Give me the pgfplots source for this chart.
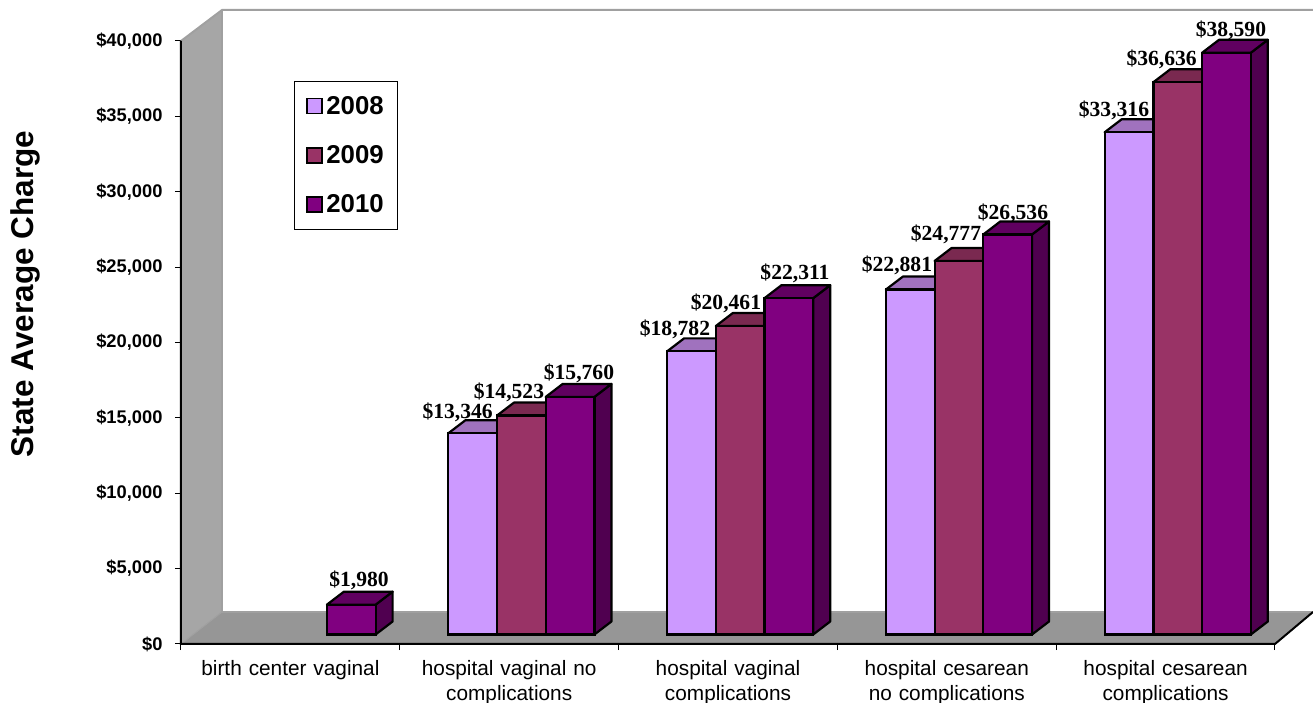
\documentclass[border=0pt]{standalone}
\usepackage{pgfplots}
\usepackage{pgfplotstable}
\usepackage{fontspec}
\pgfplotsset{compat=1.18}
\setmainfont{Liberation Sans}
\newfontfamily\serifbold{Liberation Serif}
\definecolor{cA}{HTML}{CC99FF}
\definecolor{cB}{HTML}{993366}
\definecolor{cC}{HTML}{800080}
\definecolor{tA}{HTML}{A072BE}
\definecolor{tB}{HTML}{7A2950}
\definecolor{tC}{HTML}{600060}
\definecolor{sA}{HTML}{8A5CAA}
\definecolor{sB}{HTML}{5F1F40}
\definecolor{sC}{HTML}{500050}
\definecolor{wallc}{HTML}{A6A6A6}
\definecolor{floorc}{HTML}{969696}
\definecolor{edgec}{HTML}{A0A0A0}
\pgfplotstableread{
x v
1.3330 13346
2.3330 18782
3.3330 22881
4.3330 33316
}\seriesA
\pgfplotstableread{
x v
1.5556 14523
2.5556 20461
3.5556 24777
4.5556 36636
}\seriesB
\pgfplotstableread{
x v
0.7782 1980
1.7782 15760
2.7782 22311
3.7782 26536
4.7782 38590
}\seriesC
% depth faces of a bar: centre x, value, top colour, side colour
\newcommand{\depthfaces}[4]{%
  \pgfmathsetmacro{\xl}{#1-0.1113}%
  \pgfmathsetmacro{\xr}{#1+0.1113}%
  \pgfmathsetmacro{\xlb}{\xl+0.0777}%
  \pgfmathsetmacro{\xrb}{\xr+0.0777}%
  \edef\yt{\the\numexpr#2+630\relax}%
  \edef\ytb{\the\numexpr#2+1492\relax}%
  \edef\tmp{\noexpand\addplot[forget plot,fill=#4,draw=black,line width=2.2pt,line join=round] coordinates {(\xr,630) (\xrb,1492) (\xrb,\ytb) (\xr,\yt)} -- cycle;
  \noexpand\addplot[forget plot,fill=#3,draw=black,line width=2.2pt,line join=round] coordinates {(\xl,\yt) (\xr,\yt) (\xrb,\ytb) (\xlb,\ytb)} -- cycle;}%
  \tmp}
% value label at a position read in reference pixels
\newcommand{\vlabel}[3]{%
  \pgfmathsetmacro{\lx}{(#1-181)/218.8}%
  \edef\ly{\the\numexpr(644-#2)*66335/1000\relax}%
  \edef\tmp{\noexpand\node[font=\noexpand\serifbold\noexpand\fontsize{21.6}{23}\noexpand\selectfont\noexpand\bfseries,anchor=center,inner sep=0pt] at (axis cs:\lx,\ly) {\noexpand\$#3};}%
  \tmp}
\begin{document}
\begin{tikzpicture}
\useasboundingbox (-181pt,-59pt) rectangle (1132pt,644pt);
\begin{axis}[
  scale only axis,
  width=1132pt,
  height=634pt,
  xmin=0, xmax=5.1737,
  ymin=0, ymax=42056,
  clip=false,
  scaled y ticks=false,
  axis x line*=bottom,
  axis y line*=left,
  axis line style={draw=none},
  xtick={0.5,1.5,2.5,3.5,4.5},
  xticklabels={birth center vaginal,hospital vaginal no\\complications,hospital vaginal\\complications,hospital cesarean\\no complications,hospital cesarean\\complications},
  minor xtick={0,1,2,3,4,5},
  major x tick style={draw=none},
  minor tick length=6pt,
  major tick length=6pt,
  tick align=outside,
  tick style={black,line width=1pt},
  minor tick style={black,line width=1pt},
  xticklabel style={font=\fontsize{20.8}{25}\selectfont,align=center,text width=215pt,yshift=-7pt},
  ytick={0,5000,10000,15000,20000,25000,30000,35000,40000},
  yticklabels={\$0,{\$5,000},{\$10,000},{\$15,000},{\$20,000},{\$25,000},{\$30,000},{\$35,000},{\$40,000}},
  yticklabel style={font=\fontsize{18.3}{20}\selectfont\bfseries,xshift=-9pt},
  ylabel={State Average Charge},
  every axis y label/.style={at={(rel axis cs:-0.1378,0.552)},rotate=90,anchor=center,font=\fontsize{31.5}{33}\selectfont\bfseries},
  legend style={at={(axis cs:0.5164,37347)},anchor=north west,draw=black,line width=1pt,
    font=\fontsize{25.8}{27}\selectfont\bfseries,inner xsep=12pt,inner ysep=13pt,row sep=25.5pt,
    legend cell align=left},
]
% walls and floor
\addplot[forget plot,fill=wallc,draw=none] coordinates {(0,40000) (0.1874,42056) (0.1874,2123) (0,0)} -- cycle;
\addplot[forget plot,fill=floorc,draw=none] coordinates {(0,0) (0.1874,2123) (5.1737,2123) (5,0)} -- cycle;
\addplot[forget plot,draw=edgec,line width=2pt] coordinates {(0,40000) (0.1874,42056) (5.1737,42056)};
\addplot[forget plot,draw=edgec,line width=1.5pt] coordinates {(0.1874,42056) (0.1874,2123) (5.1737,2123)};
\addplot[forget plot,draw=edgec,line width=1pt] coordinates {(0,0) (0.1874,2123)};
\addplot[forget plot,draw=black,line width=2pt] coordinates {(0,40000) (0,0) (5,0) (5.1737,2123)};
% 2008
\depthfaces{1.3330}{13346}{tA}{sA}
\depthfaces{2.3330}{18782}{tA}{sA}
\depthfaces{3.3330}{22881}{tA}{sA}
\depthfaces{4.3330}{33316}{tA}{sA}
\addplot[ybar,bar shift=0pt,bar width=48.7pt,yshift=9.5pt,fill=cA,draw=black,line width=2.2pt,
  legend image code/.code={\draw[fill=cA,draw=black,line width=1.5pt] (0pt,-17pt) rectangle (15pt,-2pt);\path (16pt,0pt);}] table[x=x,y=v] {\seriesA};
\addlegendentry{2008}
% 2009
\depthfaces{1.5556}{14523}{tB}{sB}
\depthfaces{2.5556}{20461}{tB}{sB}
\depthfaces{3.5556}{24777}{tB}{sB}
\depthfaces{4.5556}{36636}{tB}{sB}
\addplot[ybar,bar shift=0pt,bar width=48.7pt,yshift=9.5pt,fill=cB,draw=black,line width=2.2pt,
  legend image code/.code={\draw[fill=cB,draw=black,line width=1.5pt] (0pt,-17pt) rectangle (15pt,-2pt);\path (16pt,0pt);}] table[x=x,y=v] {\seriesB};
\addlegendentry{2009}
% 2010
\depthfaces{0.7782}{1980}{tC}{sC}
\depthfaces{1.7782}{15760}{tC}{sC}
\depthfaces{2.7782}{22311}{tC}{sC}
\depthfaces{3.7782}{26536}{tC}{sC}
\depthfaces{4.7782}{38590}{tC}{sC}
\addplot[ybar,bar shift=0pt,bar width=48.7pt,yshift=9.5pt,fill=cC,draw=black,line width=2.2pt,
  legend image code/.code={\draw[fill=cC,draw=black,line width=1.5pt] (0pt,-17pt) rectangle (15pt,-2pt);\path (16pt,0pt);}] table[x=x,y=v] {\seriesC};
\addlegendentry{2010}
% value labels
\vlabel{359}{580}{1,980}
\vlabel{457.7}{412}{13,346}
\vlabel{509}{392}{14,523}
\vlabel{579}{373}{15,760}
\vlabel{675}{329}{18,782}
\vlabel{726}{303}{20,461}
\vlabel{795}{273}{22,311}
\vlabel{897}{265}{22,881}
\vlabel{946}{234}{24,777}
\vlabel{1013}{213}{26,536}
\vlabel{1114}{110}{33,316}
\vlabel{1161.7}{59}{36,636}
\vlabel{1231}{30}{38,590}
\end{axis}
\end{tikzpicture}
\end{document}
